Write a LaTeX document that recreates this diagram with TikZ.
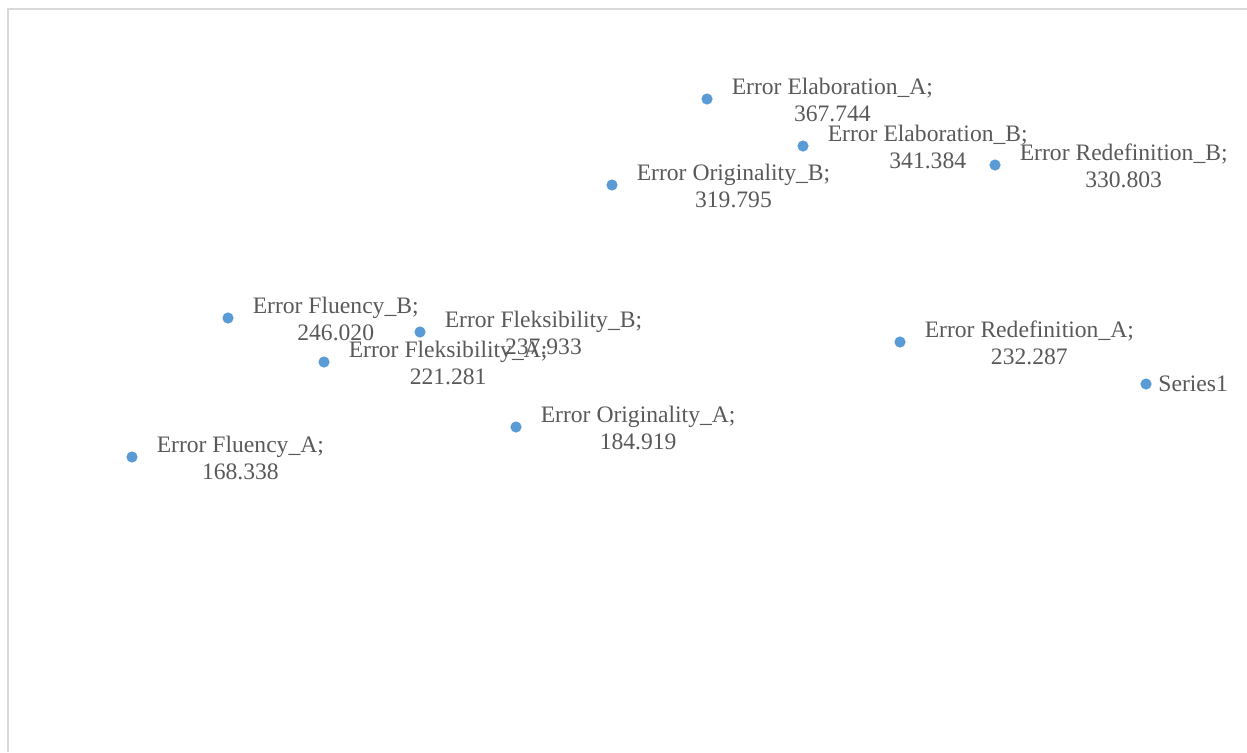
\documentclass[tikz,border=0pt]{standalone}
\usepackage{fontspec}
\setmainfont{Liberation Serif}
\usetikzlibrary{positioning}
\definecolor{dotblue}{HTML}{5B9BD5}
\definecolor{labelgray}{HTML}{595959}
\definecolor{framegray}{HTML}{D9D9D9}

\begin{document}
\begin{tikzpicture}[x=0.5pt, y=-0.5pt,
        dot/.style={circle, fill=dotblue, inner sep=0pt, minimum size=5.6pt},
        lbl/.style={text=labelgray, inner sep=0pt, align=center,
            font=\fontsize{11.8}{13.4}\selectfont}]
            \useasboundingbox (0,0) rectangle (1247,752);
            \draw [framegray, line width=0.7pt] (8,752) -- (8,9) -- (1247,9);

            \node [dot] (elA) at (707, 99) {};
            \node [dot] (elB) at (803, 146) {};
            \node [dot] (rdB) at (995, 165) {};
            \node [dot] (orB) at (612, 185) {};
            \node [dot] (fuB) at (228, 318) {};
            \node [dot] (fkB) at (420, 332) {};
            \node [dot] (fkA) at (324, 362) {};
            \node [dot] (rdA) at (900, 342) {};
            \node [dot] (orA) at (516, 427) {};
            \node [dot] (fuA) at (132, 457) {};
            \node [dot] (ser) at (1146, 384) {};

            \node [lbl, right=9.2pt of elA, yshift=-0.5pt] (elA-l) {Error Elaboration\_A;\\367.744};
            \node [lbl, right=9.2pt of elB, yshift=-0.5pt] (elB-l) {Error Elaboration\_B;\\341.384};
            \node [lbl, right=9.2pt of rdB, yshift=-0.5pt] (rdB-l) {Error Redefinition\_B;\\330.803};
            \node [lbl, right=9.2pt of orB, yshift=-0.5pt] (orB-l) {Error Originality\_B;\\319.795};
            \node [lbl, right=9.2pt of fuB, yshift=-0.5pt] (fuB-l) {Error Fluency\_B;\\246.020};
            \node [lbl, right=9.2pt of fkB, yshift=-0.5pt] (fkB-l) {Error Fleksibility\_B;\\237.933};
            \node [lbl, right=9.2pt of fkA, yshift=-0.5pt] (fkA-l) {Error Fleksibility\_A;\\221.281};
            \node [lbl, right=9.2pt of rdA, yshift=-0.5pt] (rdA-l) {Error Redefinition\_A;\\232.287};
            \node [lbl, right=9.2pt of orA, yshift=-0.5pt] (orA-l) {Error Originality\_A;\\184.919};
            \node [lbl, right=9.2pt of fuA, yshift=-0.5pt] (fuA-l) {Error Fluency\_A;\\168.338};
            \node [lbl, right=3pt of ser] (ser-l) {Series1};
        \end{tikzpicture}
\end{document}
